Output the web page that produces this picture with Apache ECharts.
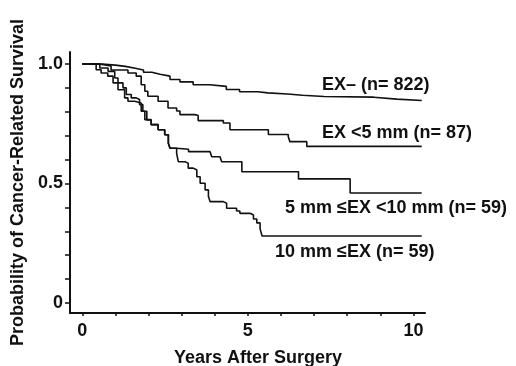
<!DOCTYPE html>
<html>
<head>
<meta charset="utf-8">
<script src="https://cdn.jsdelivr.net/npm/echarts@6/dist/echarts.min.js"></script>
<style>html,body{margin:0;padding:0;background:#fff}#c{width:516px;height:366px}</style>
</head>
<body>
<div id="c"></div>
<script>
// Kaplan-Meier curves: [years, survival probability]
const exNeg = [[0,1],[0.6,0.995],[1.0,0.99],[1.3,0.982],[1.6,0.975],[1.85,0.965],[2.1,0.957],[2.35,0.949],[2.65,0.935],[2.95,0.925],[3.35,0.913],[3.85,0.906],[4.35,0.893],[4.75,0.884],[5.3,0.879],[5.6,0.874],[6.2,0.869],[6.65,0.864],[7.3,0.861],[8.8,0.853],[9.5,0.847],[10.25,0.847]];
const exLt5 = [[0,1],[0.5,0.992],[0.87,0.975],[1.38,0.962],[1.63,0.949],[1.78,0.913],[1.89,0.886],[1.98,0.865],[2.29,0.844],[2.59,0.816],[2.85,0.803],[2.95,0.788],[3.4,0.784],[3.5,0.763],[4.26,0.753],[4.46,0.725],[5.62,0.705],[6.22,0.696],[6.27,0.675],[6.78,0.655],[10.25,0.655]];
const ex5to10 = [[0,1],[0.53,0.983],[0.78,0.969],[0.98,0.941],[1.08,0.921],[1.23,0.9],[1.33,0.872],[1.48,0.858],[1.63,0.851],[1.73,0.83],[1.83,0.802],[1.95,0.766],[2.08,0.746],[2.29,0.725],[2.49,0.704],[2.6,0.668],[2.65,0.647],[2.85,0.643],[3.21,0.633],[3.86,0.626],[3.91,0.612],[4.16,0.605],[4.21,0.591],[4.82,0.549],[6.53,0.519],[8.09,0.46],[10.25,0.46]];
const exGe10 = [[0,1],[0.42,0.976],[0.57,0.962],[0.77,0.949],[0.93,0.921],[1.08,0.892],[1.28,0.858],[1.38,0.844],[1.58,0.837],[1.78,0.802],[1.89,0.767],[2.08,0.746],[2.29,0.725],[2.49,0.704],[2.6,0.668],[2.65,0.647],[2.85,0.626],[2.9,0.591],[3.1,0.585],[3.2,0.564],[3.35,0.556],[3.46,0.528],[3.56,0.501],[3.71,0.473],[3.81,0.445],[3.86,0.424],[4.26,0.417],[4.36,0.396],[4.66,0.385],[4.76,0.375],[5.07,0.368],[5.17,0.351],[5.27,0.335],[5.37,0.31],[5.43,0.28],[10.25,0.28]];

const seriesNames = ['EX\u2013 (n= 822)', 'EX <5 mm (n= 87)', '5 mm \u2264EX <10 mm (n= 59)', '10 mm \u2264EX (n= 59)'];
const xLabelValues = [0, 5, 10];
const xTickValues = [0,1,2,3,4,5,6,7,8,9,10];
const yLabelValues = [0, 0.5, 1];
const yLabelText = ['0', '0.5', '1.0'];
const yTickValues = [0,0.1,0.2,0.3,0.4,0.5,0.6,0.7,0.8,0.9,1];
const xTitle = 'Years After Surgery';
const yTitle = 'Probability of Cancer-Related Survival';

const FONT = '"Liberation Sans", Arial, Helvetica, sans-serif';
const INK = '#111';

const chart = echarts.init(document.getElementById('c'), null, {renderer: 'canvas'});
const curves = [exNeg, exLt5, ex5to10, exGe10];
const labelPos = [[322, 85], [322, 133], [285, 208], [275, 252]];

chart.setOption({
  animation: false,
  backgroundColor: '#fff',
  grid: {left: 70, right: 91, top: 52, bottom: 53, containLabel: false, outerBoundsMode: 'none'},
  xAxis: {
    type: 'value', min: -0.37, max: 10.35,
    name: xTitle, nameLocation: 'middle', nameGap: 36,
    nameTextStyle: {fontFamily: FONT, fontWeight: 'bold', fontSize: 18, color: INK, padding: [0, 0, 0, 21]},
    axisLine: {show: true, onZero: false, lineStyle: {color: INK, width: 2}},
    axisTick: {show: true, length: 3, inside: false, customValues: xTickValues, lineStyle: {color: INK, width: 1.5}},
    axisLabel: {customValues: xLabelValues, margin: 9, fontFamily: FONT, fontWeight: 'bold', fontSize: 18, color: INK},
    splitLine: {show: false}
  },
  yAxis: {
    type: 'value', min: -0.042, max: 1.05,
    name: yTitle, nameLocation: 'middle', nameGap: 42,
    nameTextStyle: {fontFamily: FONT, fontWeight: 'bold', fontSize: 18, color: INK},
    axisLine: {show: true, onZero: false, lineStyle: {color: INK, width: 2}},
    axisTick: {show: true, length: 5, inside: false, customValues: yTickValues, lineStyle: {color: INK, width: 1.5}},
    axisLabel: {customValues: yLabelValues, margin: 7, fontFamily: FONT, fontWeight: 'bold', fontSize: 18, color: INK,
      formatter: v => yLabelText[yLabelValues.findIndex(t => Math.abs(t - v) < 1e-9)] ?? String(v)},
    splitLine: {show: false}
  },
  series: curves.map((d, i) => ({
    type: 'line', name: seriesNames[i], data: d, step: 'end', showSymbol: false, symbol: 'none',
    lineStyle: {color: INK, width: 1.6}, z: 3
  })),
  graphic: seriesNames.map((t, i) => ({
    type: 'text', x: labelPos[i][0], y: labelPos[i][1],
    style: {text: t, font: 'bold 18px ' + FONT, fill: INK, textVerticalAlign: 'middle', textAlign: 'left'}
  }))
});
</script>
</body>
</html>
